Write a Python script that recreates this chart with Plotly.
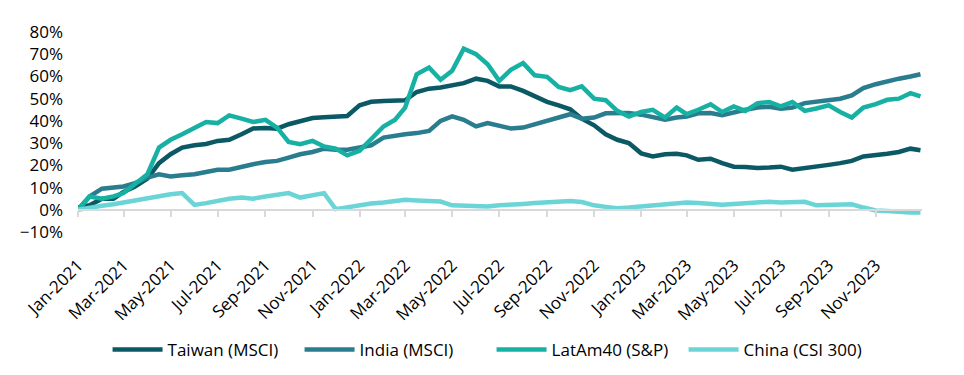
import plotly.graph_objects as go

# ---- data (semi-monthly readings, % cumulative return) ----
months = [f"{y}-{m:02d}" for y in (2021, 2022, 2023) for m in range(1, 13)]
dates = [f"{ym}-{d}" for ym in months for d in ("01", "16")] + ["2023-12-29"]

taiwan = [1, 2, 5, 5, 8, 10.5, 14, 21, 25, 28, 29, 29.6, 31, 31.5, 34, 36.6, 36.8, 36.5, 38.5, 39.8,
          41.3, 41.6, 42, 42.2, 47, 48.6, 49, 49, 49.3, 53, 54.5, 55, 56, 57, 59, 58, 55.5, 55.5, 53.5, 51,
          48.6, 47, 45.2, 41, 38, 34, 31.5, 30, 25.4, 24, 25, 25.2, 24.5, 22.5, 23, 21, 19.4, 19.2, 18.8, 19,
          19.4, 18, 18.6, 19.5, 20.2, 21, 22, 24, 24.5, 25.2, 26, 27.5, 26.8]

india = [0, 6, 9.5, 10, 10.5, 12, 14.5, 16, 15, 15.5, 16, 17, 18, 18, 19.5, 20.5, 21.5, 22, 23.5, 25,
         26, 27.5, 27, 27, 28, 29, 32.5, 33.5, 34, 34.5, 35.5, 40, 42, 40.5, 37.5, 39, 38, 36.6, 37, 38.5,
         40.5, 42, 43, 41, 41.5, 43.4, 43.5, 43.6, 42.8, 41.5, 40.5, 41.5, 42, 43.4, 43.5, 42.6, 44, 45, 46, 46.4,
         45.5, 46, 48, 48.8, 49.3, 50, 51.5, 54.8, 56.5, 58, 59, 60, 61]

latam = [0, 6, 5, 6, 7.5, 11.5, 16, 28, 31.5, 34, 37, 39.5, 39, 42.5, 41, 39.5, 40.5, 37, 30.5, 29.5,
         31, 28.5, 27.5, 24.5, 26.5, 31.5, 37.5, 40.5, 46, 61, 64, 58.5, 62.5, 72.5, 70, 65.5, 58, 63, 66, 60.5,
         59.8, 55.3, 53.8, 55.5, 50, 49.3, 44.5, 42, 44, 45, 41.5, 46, 43, 45, 47.5, 44, 46.5, 44.5, 48, 48.5,
         46.5, 48.5, 44.5, 45.6, 47, 44, 41.5, 46, 47.5, 49.5, 50, 52.5, 51]

china = [0, 1, 1.8, 2.5, 3.3, 4.2, 5.2, 6.5, 7, 7.5, 2.2, 3, 4.2, 5, 5.5, 5, 6, 6.5, 7.5, 5.5,
         6.5, 7.5, 0.3, 1.2, 2, 2.8, 3.3, 3.8, 4.5, 4.2, 4.2, 3.7, 2, 1.8, 1.5, 1.5, 2, 2.5, 2.6, 3,
         3.3, 3.6, 4, 3.5, 2, 1.3, 0.7, 1, 1.5, 1.8, 2.3, 2.8, 3.3, 3, 2.6, 2.3, 2.6, 3, 3.4, 3.6,
         3.3, 3.3, 3.6, 2, 2, 2.2, 2.5, 1, -0.3, -0.6, -1, -1.2, -1.2]

series_names = ["Taiwan (MSCI)", "India (MSCI)", "LatAm40 (S&P)", "China (CSI 300)"]
series_values = [taiwan, india, latam, china]
colors = ["#0b5964", "#2a7d8f", "#17b1a4", "#6bd4d7"]

FONT = "Open Sans"
TEXT = "#000000"
AXIS_GREY = "#d9d9d9"
Y_MIN, Y_MAX = -10, 80
ZERO_FRAC = (0 - Y_MIN) / (Y_MAX - Y_MIN)

fig = go.Figure()
for name, vals, col in zip(series_names, series_values, colors):
    fig.add_trace(go.Scatter(x=dates, y=vals, name=name, mode="lines",
                             line=dict(color=col, width=4.5)))

x_range = ["2021-01-01", "2023-12-31"]

fig.update_layout(
    width=964, height=375,
    margin=dict(l=78, r=42, t=32, b=143, autoexpand=False),
    paper_bgcolor="white", plot_bgcolor="rgba(0,0,0,0)",
    font=dict(family=FONT, size=17, color=TEXT),
    showlegend=True,
    legend=dict(orientation="h", x=0.49, xanchor="center", y=-0.59, yanchor="middle",
                font=dict(size=17, color=TEXT), entrywidth=127, itemwidth=50),
    xaxis=dict(type="date", range=x_range, tick0="2021-01-01", dtick="M2",
               tickformat="%b-%Y", tickangle=-45, showgrid=False,
               anchor="free", position=ZERO_FRAC,
               showline=True, linecolor=AXIS_GREY, linewidth=2,
               ticks="outside", ticklen=6, tickwidth=2, tickcolor=AXIS_GREY,
               zeroline=False, tickfont=dict(size=17, color=TEXT), automargin=False,
               ticklabelstandoff=32),
    yaxis=dict(range=[Y_MIN, Y_MAX], dtick=10, tick0=0, ticksuffix="%", showgrid=False,
               zeroline=True, zerolinecolor=AXIS_GREY, zerolinewidth=2,
               showline=False, ticks="", tickfont=dict(size=17, color=TEXT),
               automargin=False, ticklabelstandoff=14),
)

fig.write_html("out.html", post_script="document.body.style.margin='0';",
               config={"displayModeBar": False})
